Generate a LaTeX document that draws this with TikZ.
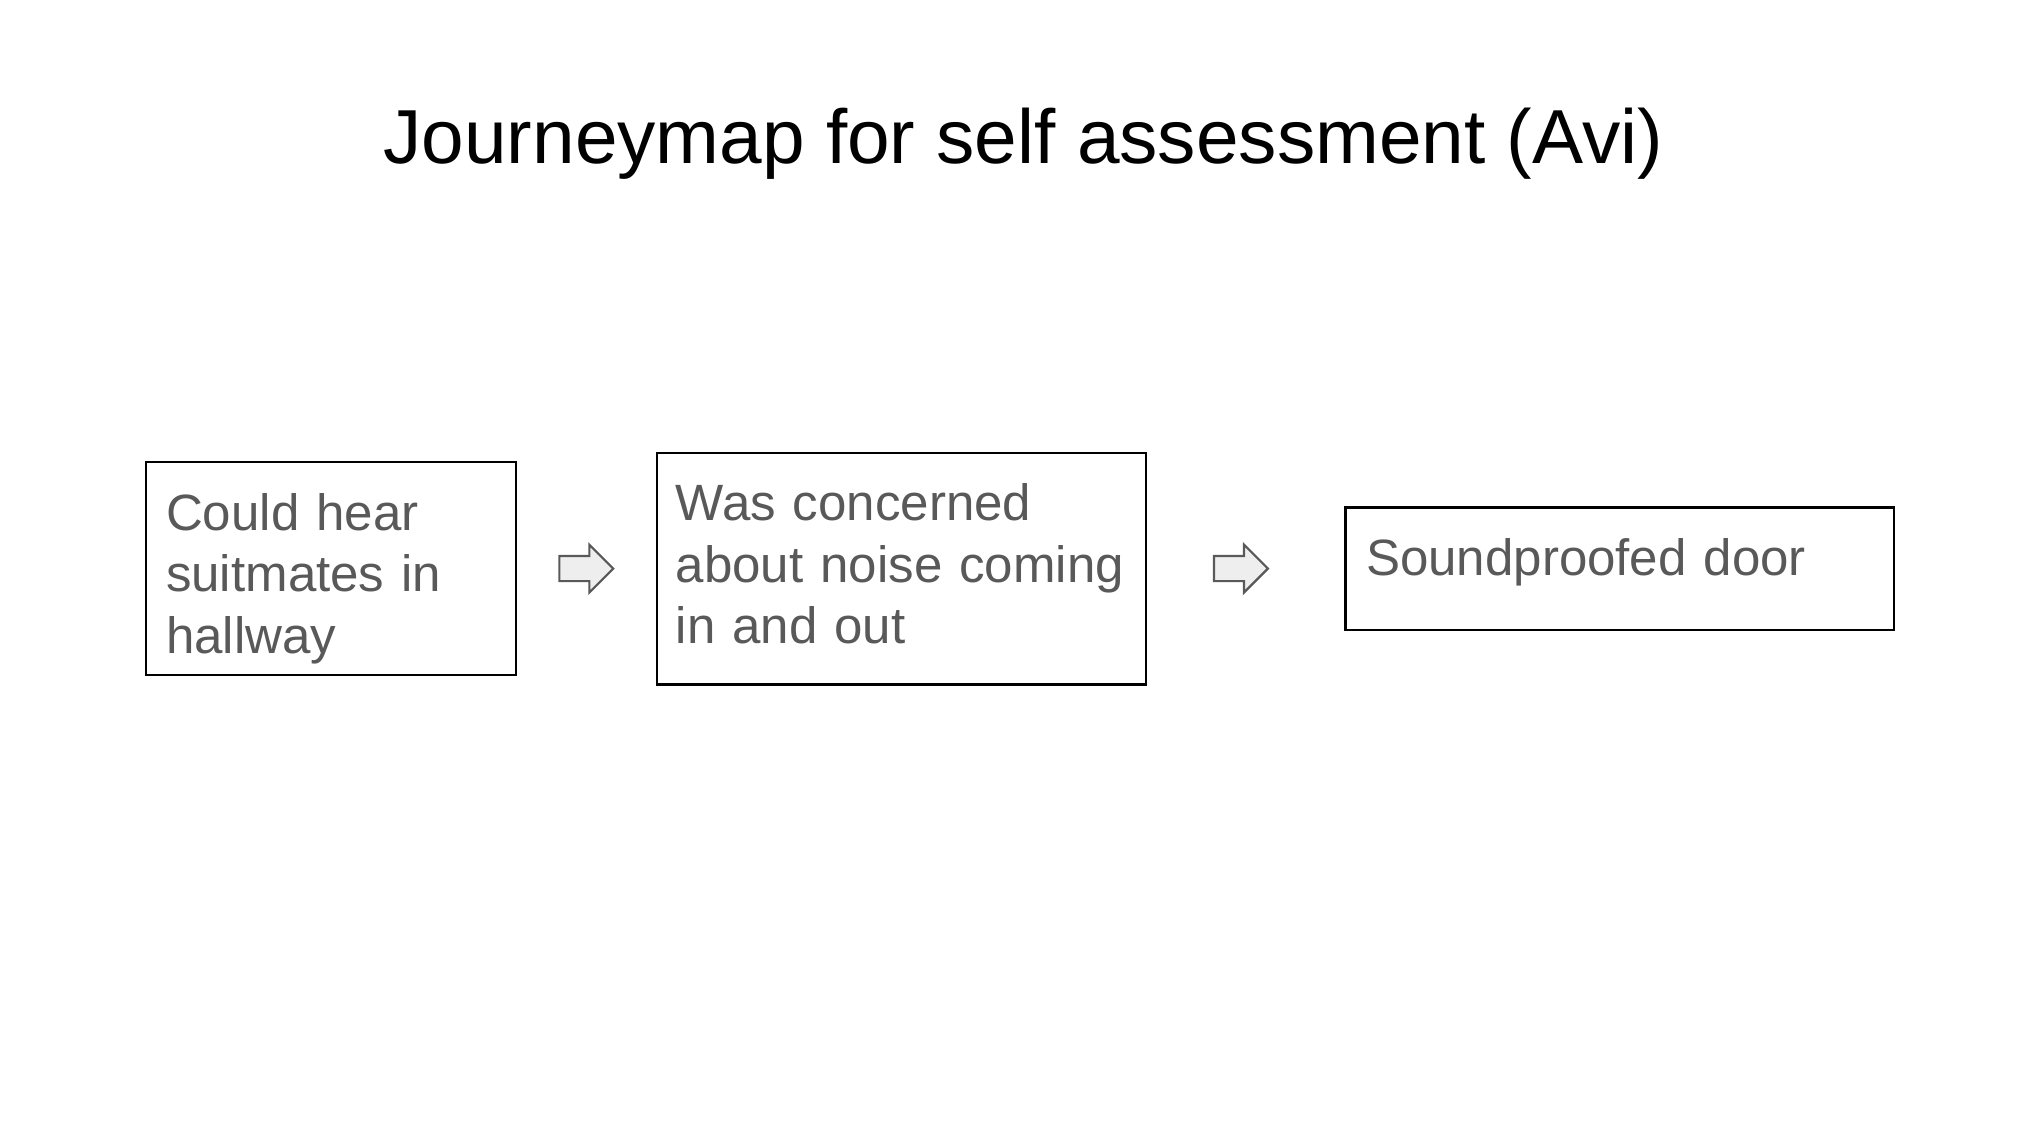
\documentclass[tikz,border=0pt]{standalone}
\usepackage{fontspec}
\setmainfont{Liberation Sans}
\usetikzlibrary{positioning,shapes.arrows}
\definecolor{txt}{HTML}{595959}
\definecolor{arrowfill}{HTML}{EEEEEE}

\begin{document}
\begin{tikzpicture}[x=1pt, y=1pt, main/.style = {draw, line width=0.8pt, outer sep=0pt, inner sep=7.2pt, align=left, text=txt, font=\fontsize{18}{21.7}\selectfont, text height=16.7pt}, arr/.style = {single arrow, draw=txt, fill=arrowfill, line width=0.75pt, inner xsep=0pt, inner ysep=4.05pt, outer sep=0pt, minimum height=19pt, single arrow head extend=4pt}]
		\useasboundingbox (0,0) rectangle (720,402.68);
		\node[anchor=base, font=\fontsize{27}{32}\selectfont] (t) at (360.8,345.2) {Journeymap for self assessment (Avi)};
		\node[main, text width=116.2pt, text depth=43.9pt] (1) at (116.65,202.2) {Could hear\\suitmates in\\hallway};
		\node[arr] (a1) [right=15.3pt of 1] {};
		\node[main, inner xsep=6.7pt, text width=159pt, text depth=50.6pt] (2) [right=15.3pt of a1] {Was concerned\\about noise coming\\in and out};
		\node[arr] (a2) [right=24.1pt of 2] {};
		\node[main, text width=179pt, text depth=12pt] (3) [right=27.4pt of a2] {Soundproofed door};
		\end{tikzpicture}
\end{document}
